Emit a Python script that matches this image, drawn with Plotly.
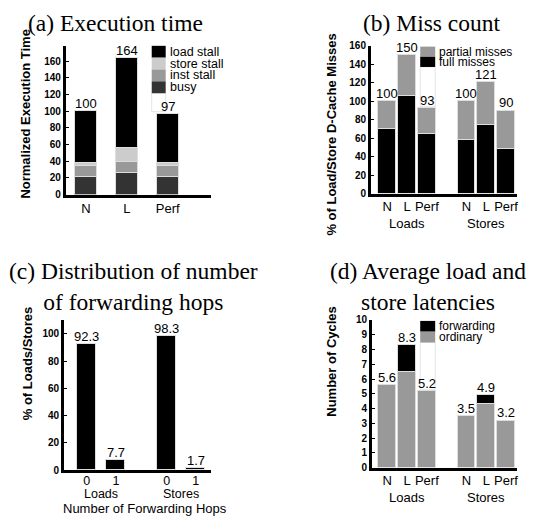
import plotly.graph_objects as go

W, H = 537, 523

# ---------------- data ----------------
# (a) Execution time
exec_cats = ["N", "L", "Perf"]
exec_series = ["busy", "inst stall", "store stall", "load stall"]
exec_busy = [20.5, 25.5, 20.5]
exec_inst = [13.5, 13.5, 13.5]
exec_store = [3.5, 17.0, 3.5]
exec_load = [62.5, 108.0, 59.5]

# (b) Miss count
miss_groups = ["Loads", "Stores"]
miss_cats = ["N", "L", "Perf"]
miss_series = ["full misses", "partial misses"]
miss_full = [70, 106, 65, 58, 75, 48]
miss_partial = [30, 44, 28, 42, 46, 42]

# (c) Distribution of number of forwarding hops
hop_groups = ["Loads", "Stores"]
hop_cats = ["0", "1"]
hop_pct = [92.3, 7.7, 98.3, 1.7]

# (d) Average load and store latencies
lat_groups = ["Loads", "Stores"]
lat_cats = ["N", "L", "Perf"]
lat_series = ["ordinary", "forwarding"]
lat_ordinary = [5.6, 6.5, 5.2, 3.5, 4.3, 3.2]
lat_forwarding = [0.0, 1.8, 0.0, 0.0, 0.6, 0.0]

# ---------------- styles ----------------
C_BLACK = "#000000"
C_LIGHT = "#cccccc"
C_MID = "#999999"
C_DARK = "#333333"
EDGE = dict(color="#dddddd", width=1)
SANS = "Liberation Sans, Arial, sans-serif"
SERIF = "Liberation Serif, Times New Roman, serif"


def px(x):
    return x / W


def py(y):
    return 1 - y / H


def grouped_positions(n_groups, n_per, gap):
    pos = []
    for g in range(n_groups):
        for i in range(n_per):
            pos.append(g * (n_per + gap) + i)
    return pos


fig = go.Figure()
shapes = []

# ---- (a)
xa = list(range(len(exec_cats)))
for name, vals, col in zip(exec_series, [exec_busy, exec_inst, exec_store, exec_load],
                           [C_DARK, C_MID, C_LIGHT, C_BLACK]):
    fig.add_trace(go.Bar(x=xa, y=vals, name=name, width=0.54, marker=dict(color=col, line=EDGE),
                         xaxis="x", yaxis="y", showlegend=False))
exec_tot = [a + b + c + d for a, b, c, d in zip(exec_busy, exec_inst, exec_store, exec_load)]

# ---- (b)
xb = grouped_positions(len(miss_groups), len(miss_cats), 1)
for name, vals, col in zip(miss_series, [miss_full, miss_partial], [C_BLACK, C_MID]):
    fig.add_trace(go.Bar(x=xb, y=vals, name=name, width=0.9, marker=dict(color=col, line=EDGE),
                         xaxis="x2", yaxis="y2", showlegend=False))
miss_tot = [a + b for a, b in zip(miss_full, miss_partial)]

# ---- (c)
xc = [g * 2.75 + i for g in range(len(hop_groups)) for i in range(len(hop_cats))]
fig.add_trace(go.Bar(x=xc, y=hop_pct, width=0.67, marker=dict(color=C_BLACK, line=EDGE),
                     xaxis="x3", yaxis="y3", showlegend=False))

# ---- (d)
xd = grouped_positions(len(lat_groups), len(lat_cats), 1)
for name, vals, col in zip(lat_series, [lat_ordinary, lat_forwarding], [C_MID, C_BLACK]):
    fig.add_trace(go.Bar(x=xd, y=vals, name=name, width=0.9, marker=dict(color=col, line=EDGE),
                         xaxis="x4", yaxis="y4", showlegend=False))
lat_tot = [a + b for a, b in zip(lat_ordinary, lat_forwarding)]


def fmt(v):
    return "{:g}".format(round(v, 1))


annotations = []


def value_labels(xs, tots, xref, yref):
    for x, t in zip(xs, tots):
        annotations.append(dict(x=x, y=t, xref=xref, yref=yref, text=fmt(t), showarrow=False,
                                yanchor="bottom", xanchor="center", yshift=-2,
                                font=dict(family=SANS, size=13, color="black")))


value_labels(xa, exec_tot, "x", "y")
value_labels(xb, miss_tot, "x2", "y2")
value_labels(xc, hop_pct, "x3", "y3")
value_labels(xd, lat_tot, "x4", "y4")


def text(x, y, s, size, family=SANS, angle=0, bold=False, xanchor="center", yanchor="middle"):
    annotations.append(dict(x=px(x), y=py(y), xref="paper", yref="paper", text=s, showarrow=False,
                            textangle=angle, xanchor=xanchor, yanchor=yanchor,
                            font=dict(family=family, size=size, color="black",
                                      weight="bold" if bold else "normal")))


# titles
text(116, 18, "(a) Execution time", 23.5, SERIF)
text(433, 18, "(b) Miss count", 23.5, SERIF)
text(134, 288, "(c) Distribution of number<br>of forwarding hops", 23.5, SERIF)
text(429, 288, "(d) Average load and<br>store latencies", 23.5, SERIF)

# y titles
text(26, 111, "Normalized Execution Time", 13, angle=-90, bold=True)
text(332, 132, "% of Load/Store D-Cache Misses", 13, angle=-90, bold=True)
text(27, 366, "% of Loads/Stores", 13, angle=-90, bold=True)
text(332, 364, "Number of Cycles", 13, angle=-90, bold=True)


# group labels
def group_labels(groups, xs_all, n_per, xref, ypix, size=13):
    for g, name in enumerate(groups):
        xs = xs_all[g * n_per:(g + 1) * n_per]
        annotations.append(dict(x=sum(xs) / len(xs), y=py(ypix), xref=xref, yref="paper",
                                text=name, showarrow=False, xanchor="center", yanchor="middle",
                                font=dict(family=SANS, size=size, color="black")))


group_labels(miss_groups, xb, len(miss_cats), "x2", 223)
group_labels(hop_groups, xc, len(hop_cats), "x3", 499.5, 12.5)
group_labels(lat_groups, xd, len(lat_cats), "x4", 503)
text(145, 514, "Number of Forwarding Hops", 13)


# legends (manual, compact) with their faint background boxes
def legend(x0, y0, w, h, items, box_bottom, size):
    n = len(items)
    shapes.append(dict(type="rect", xref="paper", yref="paper", x0=px(x0), x1=px(x0 + w),
                       y0=py(box_bottom), y1=py(y0 + n * h), fillcolor="white",
                       line=dict(color="#e4e4e4", width=1)))
    for i, (name, col) in enumerate(items):
        top = y0 + i * h
        shapes.append(dict(type="rect", xref="paper", yref="paper", x0=px(x0), x1=px(x0 + w),
                           y0=py(top + h), y1=py(top), fillcolor=col, line=dict(width=0)))
        text(x0 + w + 2, top + h / 2, name, size, xanchor="left")


legend(152, 41.7, 14, 12.1, [("load stall", C_BLACK), ("store stall", C_LIGHT),
                             ("inst stall", C_MID), ("busy", C_DARK)], 109, 12.5)
legend(421, 42.5, 15, 10.4, [("partial misses", C_MID), ("full misses", C_BLACK)], 104, 12)
legend(421, 322.7, 15, 11, [("forwarding", C_BLACK), ("ordinary", C_MID)], 393, 12)


def xaxis(dom, rng, tickvals, ticktext, anchor, standoff=0, size=13):
    return dict(domain=[px(dom[0]), px(dom[1])], range=rng, anchor=anchor, showline=True,
                linewidth=3, linecolor="black", tickvals=tickvals, ticktext=ticktext, ticks="",
                showgrid=False, zeroline=False, fixedrange=True, ticklabelstandoff=standoff,
                tickfont=dict(family=SANS, size=size, color="black"))


def yaxis(dom, rng, dtick, anchor):
    return dict(domain=[py(dom[0]), py(dom[1])], range=rng, anchor=anchor, showline=True,
                linewidth=3, linecolor="black", dtick=dtick, tick0=0, ticks="inside", ticklen=3,
                tickwidth=1, tickcolor="black", showgrid=False, zeroline=False, fixedrange=True,
                tickfont=dict(family=SANS, size=10, color="black", weight="bold"))


fig.update_layout(
    width=W, height=H, margin=dict(l=0, r=0, t=0, b=0),
    paper_bgcolor="white", plot_bgcolor="white",
    barmode="stack", bargap=0, showlegend=False,
    xaxis=xaxis((66, 211), [-0.488, 3.049], xa, exec_cats, "y"),
    yaxis=yaxis((193.7, 42), [0, 178], 20, "x"),
    xaxis2=xaxis((371.7, 518), [-0.822, 6.555], xb, miss_cats * len(miss_groups), "y2", -1),
    yaxis2=yaxis((192.7, 41.7), [0, 160], 20, "x2"),
    xaxis3=xaxis((64.3, 211), [-0.78, 4.26], xc, hop_cats * len(hop_groups), "y3", -3, 12.5),
    yaxis3=yaxis((475, 321.7), [0, 110.3], 20, "x3"),
    xaxis4=xaxis((372.7, 518), [-0.772, 6.555], xd, lat_cats * len(lat_groups), "y4", -1),
    yaxis4=yaxis((472.7, 321.7), [0, 10], 1, "x4"),
    annotations=annotations, shapes=shapes,
)

fig.write_html("out.html", config={"displayModeBar": False},
               post_script="document.body.style.margin='0px';")
